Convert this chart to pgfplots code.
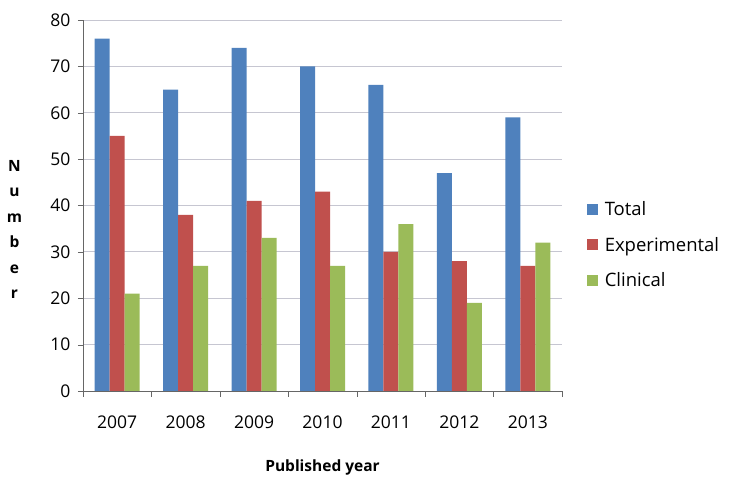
\documentclass[border=0pt]{standalone}
\usepackage{pgfplots}
\pgfplotsset{compat=1.18}
\usepackage{fontspec}
\setmainfont{Open Sans}
\definecolor{cTotal}{HTML}{4F81BD}
\definecolor{cExp}{HTML}{C0504D}
\definecolor{cCli}{HTML}{9BBB59}
\begin{document}
\begin{tikzpicture}[x=1pt,y=1pt]
\useasboundingbox (0,0) rectangle (734,487);
\begin{axis}[
  at={(83pt,96pt)}, anchor=south west,
  scale only axis, width=479pt, height=371pt,
  ybar=0pt, bar width=15pt,
  xmin=-0.5, xmax=6.5, ymin=0, ymax=80,
  xtick={0,...,6}, xticklabels={2007,2008,2009,2010,2011,2012,2013},
  minor xtick={-0.5,0.5,...,6.5},
  major x tick style={draw=none},
  minor x tick style={draw=gray!80!black},
  ytick={0,10,...,80},
  axis lines*=left, axis line style={draw=gray!80!black},
  tick pos=left, tick align=outside, major tick length=5pt, minor tick length=6pt,
  y tick style={draw=gray!80!black},
  ymajorgrids, grid style={draw=black!10!blue!12!gray!40, line width=0.8pt},
  tick label style={font=\fontsize{17.5}{20}\selectfont},
  /pgf/number format/assume math mode=true,
  xticklabel style={yshift=-16pt},
  yticklabel style={xshift=-4pt},
  xlabel={Published year},
  xlabel style={font=\fontsize{15.5}{18}\selectfont\bfseries, at={(axis description cs:0.5,-0.205)}, anchor=center},
  ylabel={N\\u\\m\\b\\e\\r},
  ylabel style={font=\fontsize{15.5}{25.5}\selectfont\bfseries, rotate=-90, align=center, at={(axis description cs:-0.143,0.435)}, anchor=center},
  legend style={draw=none, at={(1.045,0.522)}, anchor=north west, font=\fontsize{18.5}{21}\selectfont,
    row sep=16pt, /tikz/every odd column/.append style={column sep=5pt}},
  legend image code/.code={\fill[#1] (0pt,-5.5pt) rectangle (11pt,5.5pt);},
  legend cell align=left,
]
\addplot[fill=cTotal, draw=none] coordinates {(0,76) (1,65) (2,74) (3,70) (4,66) (5,47) (6,59)};
\addplot[fill=cExp, draw=none] coordinates {(0,55) (1,38) (2,41) (3,43) (4,30) (5,28) (6,27)};
\addplot[fill=cCli, draw=none] coordinates {(0,21) (1,27) (2,33) (3,27) (4,36) (5,19) (6,32)};
\legend{Total,Experimental,Clinical}
\end{axis}
\end{tikzpicture}
\end{document}
